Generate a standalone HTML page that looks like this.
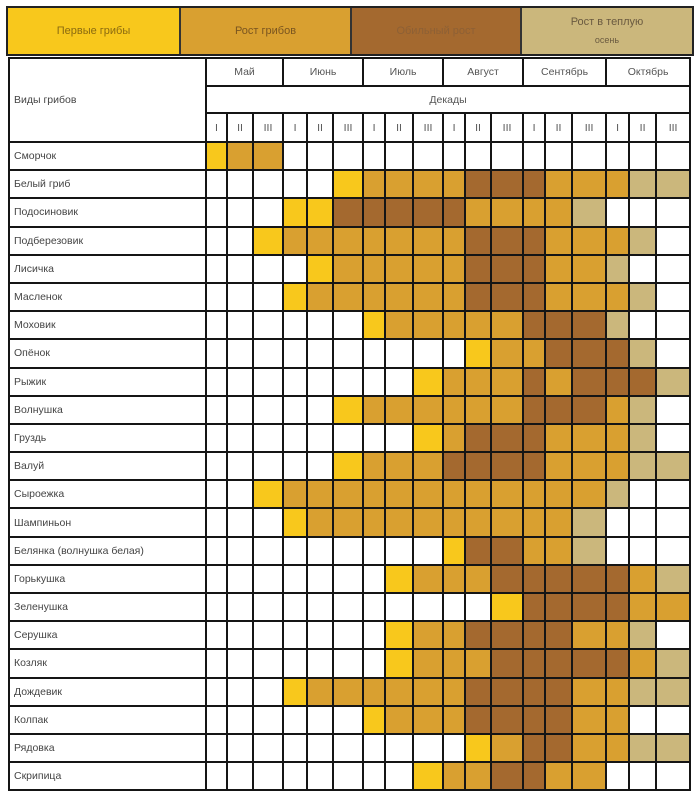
<!DOCTYPE html><html><head><meta charset="utf-8"><style>
body{margin:0;width:696px;height:800px;background:#fff;position:relative;font-family:"Liberation Sans",sans-serif;overflow:hidden}
.lg{position:absolute;top:6px;left:6px;width:684px;height:46px;border:2px solid #222;display:flex;background:#222}
.lg>div{height:46px;display:flex;align-items:center;justify-content:center;text-align:center;font-size:11px;line-height:18px}
table{position:absolute;top:57px;left:8px;border-collapse:collapse;table-layout:fixed;width:681px}
td{border:2px solid #151515;padding:0;font-size:10.5px;color:#555;text-align:center;overflow:hidden;white-space:nowrap}
td.n{text-align:left;padding-left:4px;color:#444}
tr.d td{height:26.2px}
.Y{background:#f8c81c}.G{background:#d9a030}.B{background:#a4692f}.T{background:#cbb77c}
</style></head><body>
<div class="lg">
<div style="width:171px;background:#f8c81c;color:#8a6a10">Первые грибы</div>
<div style="width:2px;background:#333"></div>
<div style="width:169px;background:#d9a030;color:#7a5520">Рост грибов</div>
<div style="width:2px;background:#333"></div>
<div style="width:168px;background:#a4692f;color:#8d6035">Обильный рост</div>
<div style="width:2px;background:#333"></div>
<div style="width:170px;background:#cbb77c;color:#6a5a40"><div>Рост в теплую<br><span style="font-size:9px">осень</span></div></div>
</div>
<table>
<colgroup><col style="width:197px"><col style="width:21px"><col style="width:26px"><col style="width:30px"><col style="width:24px"><col style="width:26px"><col style="width:30px"><col style="width:22px"><col style="width:28px"><col style="width:30px"><col style="width:22px"><col style="width:26px"><col style="width:32px"><col style="width:22px"><col style="width:27px"><col style="width:34px"><col style="width:23px"><col style="width:27px"><col style="width:34px"></colgroup>
<tr style="height:28px"><td class="n" rowspan="3">Виды грибов</td><td colspan="3">Май</td><td colspan="3">Июнь</td><td colspan="3">Июль</td><td colspan="3">Август</td><td colspan="3">Сентябрь</td><td colspan="3">Октябрь</td></tr>
<tr style="height:27px"><td colspan="18">Декады</td></tr>
<tr style="height:29px;font-size:9px"><td>I</td><td>II</td><td>III</td><td>I</td><td>II</td><td>III</td><td>I</td><td>II</td><td>III</td><td>I</td><td>II</td><td>III</td><td>I</td><td>II</td><td>III</td><td>I</td><td>II</td><td>III</td></tr>
<tr class="d"><td class="n">Сморчок</td><td class="Y"></td><td class="G"></td><td class="G"></td><td></td><td></td><td></td><td></td><td></td><td></td><td></td><td></td><td></td><td></td><td></td><td></td><td></td><td></td><td></td></tr>
<tr class="d"><td class="n">Белый гриб</td><td></td><td></td><td></td><td></td><td></td><td class="Y"></td><td class="G"></td><td class="G"></td><td class="G"></td><td class="G"></td><td class="B"></td><td class="B"></td><td class="B"></td><td class="G"></td><td class="G"></td><td class="G"></td><td class="T"></td><td class="T"></td></tr>
<tr class="d"><td class="n">Подосиновик</td><td></td><td></td><td></td><td class="Y"></td><td class="Y"></td><td class="B"></td><td class="B"></td><td class="B"></td><td class="B"></td><td class="B"></td><td class="G"></td><td class="G"></td><td class="G"></td><td class="G"></td><td class="T"></td><td></td><td></td><td></td></tr>
<tr class="d"><td class="n">Подберезовик</td><td></td><td></td><td class="Y"></td><td class="G"></td><td class="G"></td><td class="G"></td><td class="G"></td><td class="G"></td><td class="G"></td><td class="G"></td><td class="B"></td><td class="B"></td><td class="B"></td><td class="G"></td><td class="G"></td><td class="G"></td><td class="T"></td><td></td></tr>
<tr class="d"><td class="n">Лисичка</td><td></td><td></td><td></td><td></td><td class="Y"></td><td class="G"></td><td class="G"></td><td class="G"></td><td class="G"></td><td class="G"></td><td class="B"></td><td class="B"></td><td class="B"></td><td class="G"></td><td class="G"></td><td class="T"></td><td></td><td></td></tr>
<tr class="d"><td class="n">Масленок</td><td></td><td></td><td></td><td class="Y"></td><td class="G"></td><td class="G"></td><td class="G"></td><td class="G"></td><td class="G"></td><td class="G"></td><td class="B"></td><td class="B"></td><td class="B"></td><td class="G"></td><td class="G"></td><td class="G"></td><td class="T"></td><td></td></tr>
<tr class="d"><td class="n">Моховик</td><td></td><td></td><td></td><td></td><td></td><td></td><td class="Y"></td><td class="G"></td><td class="G"></td><td class="G"></td><td class="G"></td><td class="G"></td><td class="B"></td><td class="B"></td><td class="B"></td><td class="T"></td><td></td><td></td></tr>
<tr class="d"><td class="n">Опёнок</td><td></td><td></td><td></td><td></td><td></td><td></td><td></td><td></td><td></td><td></td><td class="Y"></td><td class="G"></td><td class="G"></td><td class="B"></td><td class="B"></td><td class="B"></td><td class="T"></td><td></td></tr>
<tr class="d"><td class="n">Рыжик</td><td></td><td></td><td></td><td></td><td></td><td></td><td></td><td></td><td class="Y"></td><td class="G"></td><td class="G"></td><td class="G"></td><td class="B"></td><td class="G"></td><td class="B"></td><td class="B"></td><td class="B"></td><td class="T"></td></tr>
<tr class="d"><td class="n">Волнушка</td><td></td><td></td><td></td><td></td><td></td><td class="Y"></td><td class="G"></td><td class="G"></td><td class="G"></td><td class="G"></td><td class="G"></td><td class="G"></td><td class="B"></td><td class="B"></td><td class="B"></td><td class="G"></td><td class="T"></td><td></td></tr>
<tr class="d"><td class="n">Груздь</td><td></td><td></td><td></td><td></td><td></td><td></td><td></td><td></td><td class="Y"></td><td class="G"></td><td class="B"></td><td class="B"></td><td class="B"></td><td class="G"></td><td class="G"></td><td class="G"></td><td class="T"></td><td></td></tr>
<tr class="d"><td class="n">Валуй</td><td></td><td></td><td></td><td></td><td></td><td class="Y"></td><td class="G"></td><td class="G"></td><td class="G"></td><td class="B"></td><td class="B"></td><td class="B"></td><td class="B"></td><td class="G"></td><td class="G"></td><td class="G"></td><td class="T"></td><td class="T"></td></tr>
<tr class="d"><td class="n">Сыроежка</td><td></td><td></td><td class="Y"></td><td class="G"></td><td class="G"></td><td class="G"></td><td class="G"></td><td class="G"></td><td class="G"></td><td class="G"></td><td class="G"></td><td class="G"></td><td class="G"></td><td class="G"></td><td class="G"></td><td class="T"></td><td></td><td></td></tr>
<tr class="d"><td class="n">Шампиньон</td><td></td><td></td><td></td><td class="Y"></td><td class="G"></td><td class="G"></td><td class="G"></td><td class="G"></td><td class="G"></td><td class="G"></td><td class="G"></td><td class="G"></td><td class="G"></td><td class="G"></td><td class="T"></td><td></td><td></td><td></td></tr>
<tr class="d"><td class="n">Белянка (волнушка белая)</td><td></td><td></td><td></td><td></td><td></td><td></td><td></td><td></td><td></td><td class="Y"></td><td class="B"></td><td class="B"></td><td class="G"></td><td class="G"></td><td class="T"></td><td></td><td></td><td></td></tr>
<tr class="d"><td class="n">Горькушка</td><td></td><td></td><td></td><td></td><td></td><td></td><td></td><td class="Y"></td><td class="G"></td><td class="G"></td><td class="G"></td><td class="B"></td><td class="B"></td><td class="B"></td><td class="B"></td><td class="B"></td><td class="G"></td><td class="T"></td></tr>
<tr class="d"><td class="n">Зеленушка</td><td></td><td></td><td></td><td></td><td></td><td></td><td></td><td></td><td></td><td></td><td></td><td class="Y"></td><td class="B"></td><td class="B"></td><td class="B"></td><td class="B"></td><td class="G"></td><td class="G"></td></tr>
<tr class="d"><td class="n">Серушка</td><td></td><td></td><td></td><td></td><td></td><td></td><td></td><td class="Y"></td><td class="G"></td><td class="G"></td><td class="B"></td><td class="B"></td><td class="B"></td><td class="B"></td><td class="G"></td><td class="G"></td><td class="T"></td><td></td></tr>
<tr class="d"><td class="n">Козляк</td><td></td><td></td><td></td><td></td><td></td><td></td><td></td><td class="Y"></td><td class="G"></td><td class="G"></td><td class="G"></td><td class="B"></td><td class="B"></td><td class="B"></td><td class="B"></td><td class="B"></td><td class="G"></td><td class="T"></td></tr>
<tr class="d"><td class="n">Дождевик</td><td></td><td></td><td></td><td class="Y"></td><td class="G"></td><td class="G"></td><td class="G"></td><td class="G"></td><td class="G"></td><td class="G"></td><td class="B"></td><td class="B"></td><td class="B"></td><td class="B"></td><td class="G"></td><td class="G"></td><td class="T"></td><td class="T"></td></tr>
<tr class="d"><td class="n">Колпак</td><td></td><td></td><td></td><td></td><td></td><td></td><td class="Y"></td><td class="G"></td><td class="G"></td><td class="G"></td><td class="B"></td><td class="B"></td><td class="B"></td><td class="B"></td><td class="G"></td><td class="G"></td><td></td><td></td></tr>
<tr class="d"><td class="n">Рядовка</td><td></td><td></td><td></td><td></td><td></td><td></td><td></td><td></td><td></td><td></td><td class="Y"></td><td class="G"></td><td class="B"></td><td class="B"></td><td class="G"></td><td class="G"></td><td class="T"></td><td class="T"></td></tr>
<tr class="d"><td class="n">Скрипица</td><td></td><td></td><td></td><td></td><td></td><td></td><td></td><td></td><td class="Y"></td><td class="G"></td><td class="G"></td><td class="B"></td><td class="B"></td><td class="G"></td><td class="G"></td><td></td><td></td><td></td></tr>
</table>
</body></html>
